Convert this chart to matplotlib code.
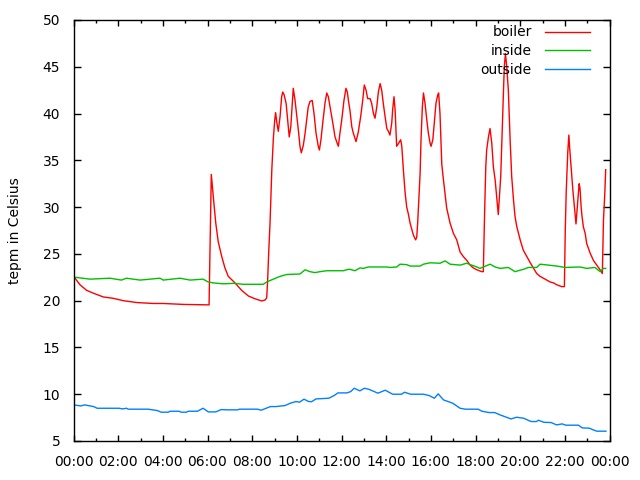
import matplotlib
matplotlib.use("Agg")
import matplotlib.pyplot as plt
from matplotlib.ticker import MultipleLocator, FixedLocator

plt.rcParams['font.family'] = ['DejaVu Sans']

# ---- data (hours since midnight, temperature in Celsius) ----
boiler_h = [0.00, 0.07, 0.29, 0.59, 0.89, 1.33, 1.78, 2.23, 2.83, 3.57, 4.01, 4.92, 5.97, 6.07,
            6.12, 6.17, 6.26, 6.37, 6.48, 6.64, 6.78, 6.93, 7.23, 7.53, 7.83, 8.13, 8.43, 8.58,
            8.65, 8.69, 8.74, 8.80, 8.88, 8.95, 9.01, 9.05, 9.10, 9.17, 9.25, 9.32, 9.37, 9.43,
            9.52, 9.62, 9.66, 9.73, 9.80, 9.84, 9.92, 10.00, 10.07, 10.14, 10.20, 10.29, 10.37,
            10.44, 10.51, 10.59, 10.69, 10.77, 10.86, 10.96, 11.01, 11.08, 11.16, 11.26, 11.34,
            11.41, 11.49, 11.61, 11.71, 11.81, 11.86, 11.93, 12.01, 12.11, 12.20, 12.26, 12.31,
            12.38, 12.46, 12.53, 12.65, 12.75, 12.86, 12.95, 13.02, 13.10, 13.17, 13.28, 13.35,
            13.43, 13.50, 13.58, 13.65, 13.73, 13.80, 13.87, 13.95, 14.03, 14.10, 14.17, 14.25,
            14.29, 14.35, 14.40, 14.47, 14.55, 14.65, 14.70, 14.77, 14.85, 14.92, 14.99, 15.07,
            15.15, 15.22, 15.32, 15.37, 15.41, 15.47, 15.52, 15.56, 15.62, 15.67, 15.74, 15.82,
            15.89, 15.97, 16.01, 16.09, 16.14, 16.23, 16.31, 16.35, 16.41, 16.49, 16.56, 16.64,
            16.71, 16.86, 17.01, 17.16, 17.24, 17.31, 17.46, 17.61, 17.76, 17.90, 18.06, 18.28,
            18.35, 18.40, 18.46, 18.50, 18.58, 18.65, 18.73, 18.80, 18.88, 18.95, 19.02, 19.07,
            19.13, 19.19, 19.25, 19.29, 19.34, 19.40, 19.47, 19.55, 19.62, 19.70, 19.77, 19.85,
            20.00, 20.14, 20.30, 20.44, 20.59, 20.74, 20.89, 21.04, 21.19, 21.34, 21.49, 21.64,
            21.86, 21.98, 22.02, 22.06, 22.13, 22.18, 22.22, 22.28, 22.36, 22.43, 22.50, 22.56,
            22.64, 22.68, 22.73, 22.77, 22.83, 22.91, 22.98, 23.13, 23.28, 23.43, 23.58, 23.68,
            23.73, 23.79, 23.83]
boiler_t = [22.5, 22.4, 21.7, 21.1, 20.8, 20.4, 20.25, 20.0, 19.8, 19.7, 19.7, 19.6, 19.55, 19.55,
            26.5, 33.5, 31.1, 28.3, 26.3, 24.7, 23.5, 22.6, 21.9, 21.1, 20.5, 20.2, 19.97, 20.07,
            20.3, 22.0, 25.1, 28.3, 34.0, 37.4, 39.3, 40.1, 39.1, 38.1, 39.7, 41.8, 42.3, 42.0,
            41.1, 38.5, 37.5, 38.6, 41.1, 42.7, 41.4, 39.7, 38.2, 36.5, 35.8, 36.6, 37.9,
            39.3, 40.7, 41.3, 41.4, 40.0, 37.9, 36.5, 36.1, 37.2, 39.0, 41.1, 42.2,
            41.8, 40.7, 39.0, 37.5, 36.8, 36.5, 37.9, 39.3, 41.4, 42.7, 42.3, 41.4,
            40.3, 38.6, 37.9, 37.0, 38.0, 39.7, 41.4, 43.05, 42.5, 41.6, 41.6, 41.1,
            40.0, 39.5, 40.7, 42.3, 43.2, 42.5, 41.1, 39.7, 38.4, 38.1, 37.7, 39.0,
            40.4, 41.8, 40.4, 36.5, 36.8, 37.2, 36.5, 34.0, 31.5, 30.0, 29.3, 28.3,
            27.6, 27.0, 26.5, 26.8, 28.3, 31.1, 33.6, 37.2, 40.7, 42.2, 41.1, 39.3,
            37.9, 36.8, 36.5, 37.2, 38.6, 41.1, 42.0, 42.2, 40.0, 34.6, 33.0, 31.3,
            29.9, 28.3, 27.2, 26.5, 25.8, 25.2, 24.7, 24.3, 23.8, 23.5, 23.3, 23.1,
            23.1, 28.6, 34.3, 36.1, 37.5, 38.4, 36.8, 34.3, 32.9, 31.1, 29.2, 31.1,
            33.3, 37.9, 42.2, 45.0, 46.4, 45.0, 42.5, 37.2, 33.3, 30.8, 29.0, 27.9,
            26.5, 25.4, 24.7, 24.1, 23.5, 22.9, 22.6, 22.4, 22.2, 22.0, 21.9, 21.7,
            21.5, 21.5, 27.6, 31.5, 35.8, 37.7, 36.2, 34.3, 31.8, 30.0, 28.2, 30.0,
            32.5, 32.0, 30.0, 29.0, 27.9, 27.2, 26.1, 25.1, 24.3, 23.8, 23.3, 22.9,
            28.6, 31.5, 34.0]

inside_h = [0.00, 0.07, 0.74, 1.63, 2.15, 2.37, 2.98, 3.87, 4.02, 4.77, 5.22, 5.80, 6.03, 6.26,
            6.71, 7.16, 7.60, 8.50, 8.65, 8.95, 9.25, 9.55, 10.14, 10.37, 10.59, 10.81, 11.04,
            11.34, 12.08, 12.31, 12.38, 12.60, 12.83, 12.98, 13.20, 14.03, 14.17, 14.47, 14.62,
            14.92, 15.07, 15.52, 15.67, 15.97, 16.41, 16.64, 16.86, 17.31, 17.61, 17.83, 18.06,
            18.20, 18.35, 18.65, 18.88, 19.10, 19.47, 19.77, 20.14, 20.37, 20.74, 20.89, 21.64,
            22.01, 22.68, 22.98, 23.35, 23.58, 23.73, 23.83]
inside_t = [22.5, 22.5, 22.3, 22.4, 22.2, 22.4, 22.2, 22.4, 22.2, 22.4, 22.2, 22.3, 22.0, 21.9,
            21.8, 21.85, 21.75, 21.75, 22.0, 22.3, 22.6, 22.8, 22.85, 23.3, 23.1, 23.0, 23.1,
            23.2, 23.2, 23.35, 23.35, 23.2, 23.5, 23.45, 23.6, 23.6, 23.55, 23.6, 23.9,
            23.85, 23.7, 23.7, 23.9, 24.05, 24.0, 24.25, 23.9, 23.8, 24.0, 23.8, 23.6,
            23.45, 23.6, 23.9, 23.6, 23.45, 23.55, 23.1, 23.35, 23.55, 23.55, 23.9, 23.7,
            23.55, 23.6, 23.45, 23.55, 23.1, 23.45, 23.45]

outside_h = [0.00, 0.33, 0.49, 0.90, 1.06, 2.04, 2.20, 2.37, 2.45, 3.35, 3.76, 3.92, 4.24, 4.33,
             4.73, 4.82, 5.06, 5.14, 5.55, 5.80, 6.04, 6.37, 6.61, 6.86, 7.35, 7.43, 8.24, 8.40,
             8.82, 9.06, 9.47, 9.71, 9.96, 10.12, 10.32, 10.53, 10.66, 10.86, 11.43, 11.67,
             11.84, 12.24, 12.41, 12.57, 12.82, 13.03, 13.22, 13.47, 13.63, 13.96, 14.29, 14.69,
             14.82, 15.10, 15.67, 15.92, 16.16, 16.33, 16.57, 16.98, 17.31, 17.55, 18.12, 18.29,
             18.61, 18.86, 19.10, 19.59, 19.84, 20.16, 20.49, 20.73, 20.82, 21.06, 21.39, 21.63,
             21.88, 22.04, 22.61, 22.78, 23.10, 23.27, 23.43, 23.84]
outside_t = [8.86, 8.75, 8.86, 8.68, 8.5, 8.5, 8.43, 8.5, 8.4, 8.4, 8.25, 8.08, 8.08, 8.18,
             8.18, 8.08, 8.08, 8.18, 8.18, 8.5, 8.11, 8.11, 8.36, 8.33, 8.33, 8.4, 8.4, 8.29,
             8.68, 8.68, 8.79, 9.04, 9.22, 9.15, 9.47, 9.22, 9.2, 9.5, 9.57, 9.86,
             10.14, 10.14, 10.28, 10.64, 10.36, 10.64, 10.53, 10.28, 10.11, 10.43, 10.0, 10.0,
             10.21, 10.0, 10.0, 9.86, 9.57, 10.04, 9.39, 9.04, 8.5, 8.4, 8.4, 8.18,
             8.04, 8.04, 7.79, 7.36, 7.54, 7.43, 7.08, 7.08, 7.22, 7.0, 6.97, 6.72,
             6.83, 6.69, 6.69, 6.4, 6.37, 6.19, 6.05, 6.05]

x_tick_hours = [0, 2, 4, 6, 8, 10, 12, 14, 16, 18, 20, 22, 24]
x_tick_labels = ["00:00", "02:00", "04:00", "06:00", "08:00", "10:00", "12:00",
                 "14:00", "16:00", "18:00", "20:00", "22:00", "00:00"]
y_ticks = [5, 10, 15, 20, 25, 30, 35, 40, 45, 50]

# ---- figure ----
fig = plt.figure(figsize=(6.4, 4.8), dpi=100)
ax = fig.add_axes([73.5 / 640, 1 - 441 / 480, (609.5 - 73.5) / 640, (441 - 20) / 480])

ax.plot(boiler_h, boiler_t, color='#ff0000', lw=1.0, label='boiler')
ax.plot(inside_h, inside_t, color='#00c000', lw=1.0, label='inside')
ax.plot(outside_h, outside_t, color='#0080ff', lw=1.0, label='outside')

ax.set_xlim(0, 24)
ax.set_ylim(5, 50)
ax.xaxis.set_major_locator(FixedLocator(x_tick_hours))
ax.set_xticklabels(x_tick_labels)
ax.xaxis.set_minor_locator(MultipleLocator(1))
ax.set_yticks(y_ticks)

for s in ax.spines.values():
    s.set_linewidth(1.0)

ax.tick_params(axis='x', which='major', direction='in', top=True, bottom=True,
               length=4, width=1.0, labelsize=10, pad=10, colors='black')
ax.tick_params(axis='x', which='minor', direction='in', top=True, bottom=True,
               length=2.5, width=1.0)
ax.tick_params(axis='y', which='major', direction='in', left=True, right=True,
               length=5, width=1.0, labelsize=10, pad=9.5)

fig.text(15 / 640, 1 - 230.5 / 480, 'tepm in Celsius', rotation=90,
         ha='center', va='center', fontsize=10)

leg = ax.legend(loc='upper right', bbox_to_anchor=(590 / 640, 1 - 25.5 / 480),
                bbox_transform=fig.transFigure, frameon=False, markerfirst=False,
                fontsize=10, handlelength=3.25, handletextpad=0.95, labelspacing=0.35,
                borderpad=0, borderaxespad=0)

fig.savefig('out.png', dpi=100)
